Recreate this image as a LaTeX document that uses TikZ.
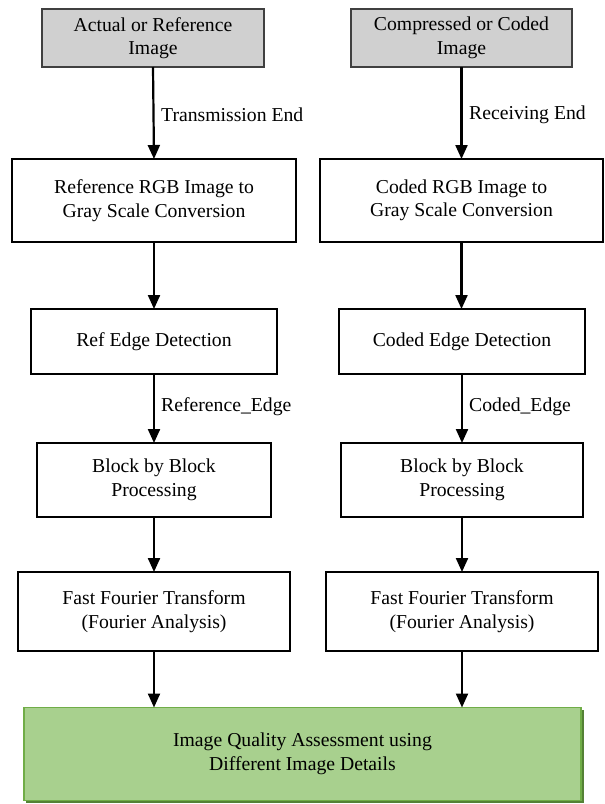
\documentclass[tikz,border=0pt]{standalone}
\usepackage{fontspec}
\setmainfont{Liberation Serif}
\usetikzlibrary{arrows.meta}
\definecolor{boxgray}{RGB}{208,208,208}
\definecolor{bordergray}{RGB}{64,64,64}
\definecolor{gfill}{RGB}{168,208,142}
\definecolor{gborder}{RGB}{112,173,71}
\definecolor{gshadow}{RGB}{84,130,53}
\tikzset{
  base/.style={draw, line width=1.4pt, inner sep=0pt, outer sep=0pt, align=center,
    font=\fontsize{19.7}{23.5}\selectfont},
  graybox/.style={base, draw=bordergray, fill=boxgray},
  whitebox/.style={base, draw=black, fill=white},
  greenbox/.style={base, draw=gborder, fill=gfill},
  flow/.style={line width=2.2pt, -{Triangle[length=14pt,width=12pt]}},
  lbl/.style={anchor=west, inner sep=0pt, font=\fontsize{19.7}{23.5}\selectfont}
}
\begin{document}
\begin{tikzpicture}[x=1pt,y=-1pt]
\useasboundingbox (0,0) rectangle (605,804);
% top
\node[graybox, minimum width=222pt, minimum height=58pt] (t1) at (153,38) {Actual or Reference\\Image};
\node[graybox, minimum width=221pt, minimum height=58pt] (t2) at (461.5,38) {Compressed or Coded\\Image};
% gray scale conversion
\node[whitebox, minimum width=284pt, minimum height=83pt] (g1) at (154,200.5) {Reference RGB Image to\\Gray Scale Conversion};
\node[whitebox, minimum width=283pt, minimum height=83pt] (g2) at (461.5,200.5) {Coded RGB Image to\\Gray Scale Conversion};
% edge detection
\node[whitebox, minimum width=246pt, minimum height=65pt] (e1) at (154,341.5) {Ref Edge Detection};
\node[whitebox, minimum width=246pt, minimum height=65pt] (e2) at (462,341.5) {Coded Edge Detection};
% block processing
\node[whitebox, minimum width=234pt, minimum height=74pt] (b1) at (154,480) {Block by Block\\Processing};
\node[whitebox, minimum width=242pt, minimum height=74pt] (b2) at (462,480) {Block by Block\\Processing};
% FFT
\node[whitebox, minimum width=272pt, minimum height=79pt] (f1) at (154,611.5) {Fast Fourier Transform\\(Fourier Analysis)};
\node[whitebox, minimum width=272pt, minimum height=79pt] (f2) at (462,611.5) {Fast Fourier Transform\\(Fourier Analysis)};
% assessment
\fill[gshadow] (26,710) rectangle (584,803);
\node[greenbox, minimum width=557pt, minimum height=93pt] (q) at (302.5,754) {Image Quality Assessment using\\Different Image Details};
% connectors
\draw[flow] (t1.south) -- (g1.north);
\draw[flow] (t2.south) -- (g2.north);
\draw[flow] (g1.south) -- (e1.north);
\draw[flow] (g2.south) -- (g2.south |- e2.north);
\draw[flow] (e1.south) -- (b1.north);
\draw[flow] (e2.south) -- (b2.north);
\draw[flow] (b1.south) -- (f1.north);
\draw[flow] (b2.south) -- (f2.north);
\draw[flow] (f1.south) -- (f1.south |- q.north);
\draw[flow] (f2.south) -- (f2.south |- q.north);
% labels
\node[lbl] (l1) at (161,115) {Transmission End};
\node[lbl] (l2) at (469,115) {Receiving End};
\node[lbl] (l3) at (161,407) {Reference\_Edge};
\node[lbl] (l4) at (469,407) {Coded\_Edge};
\end{tikzpicture}
\end{document}
